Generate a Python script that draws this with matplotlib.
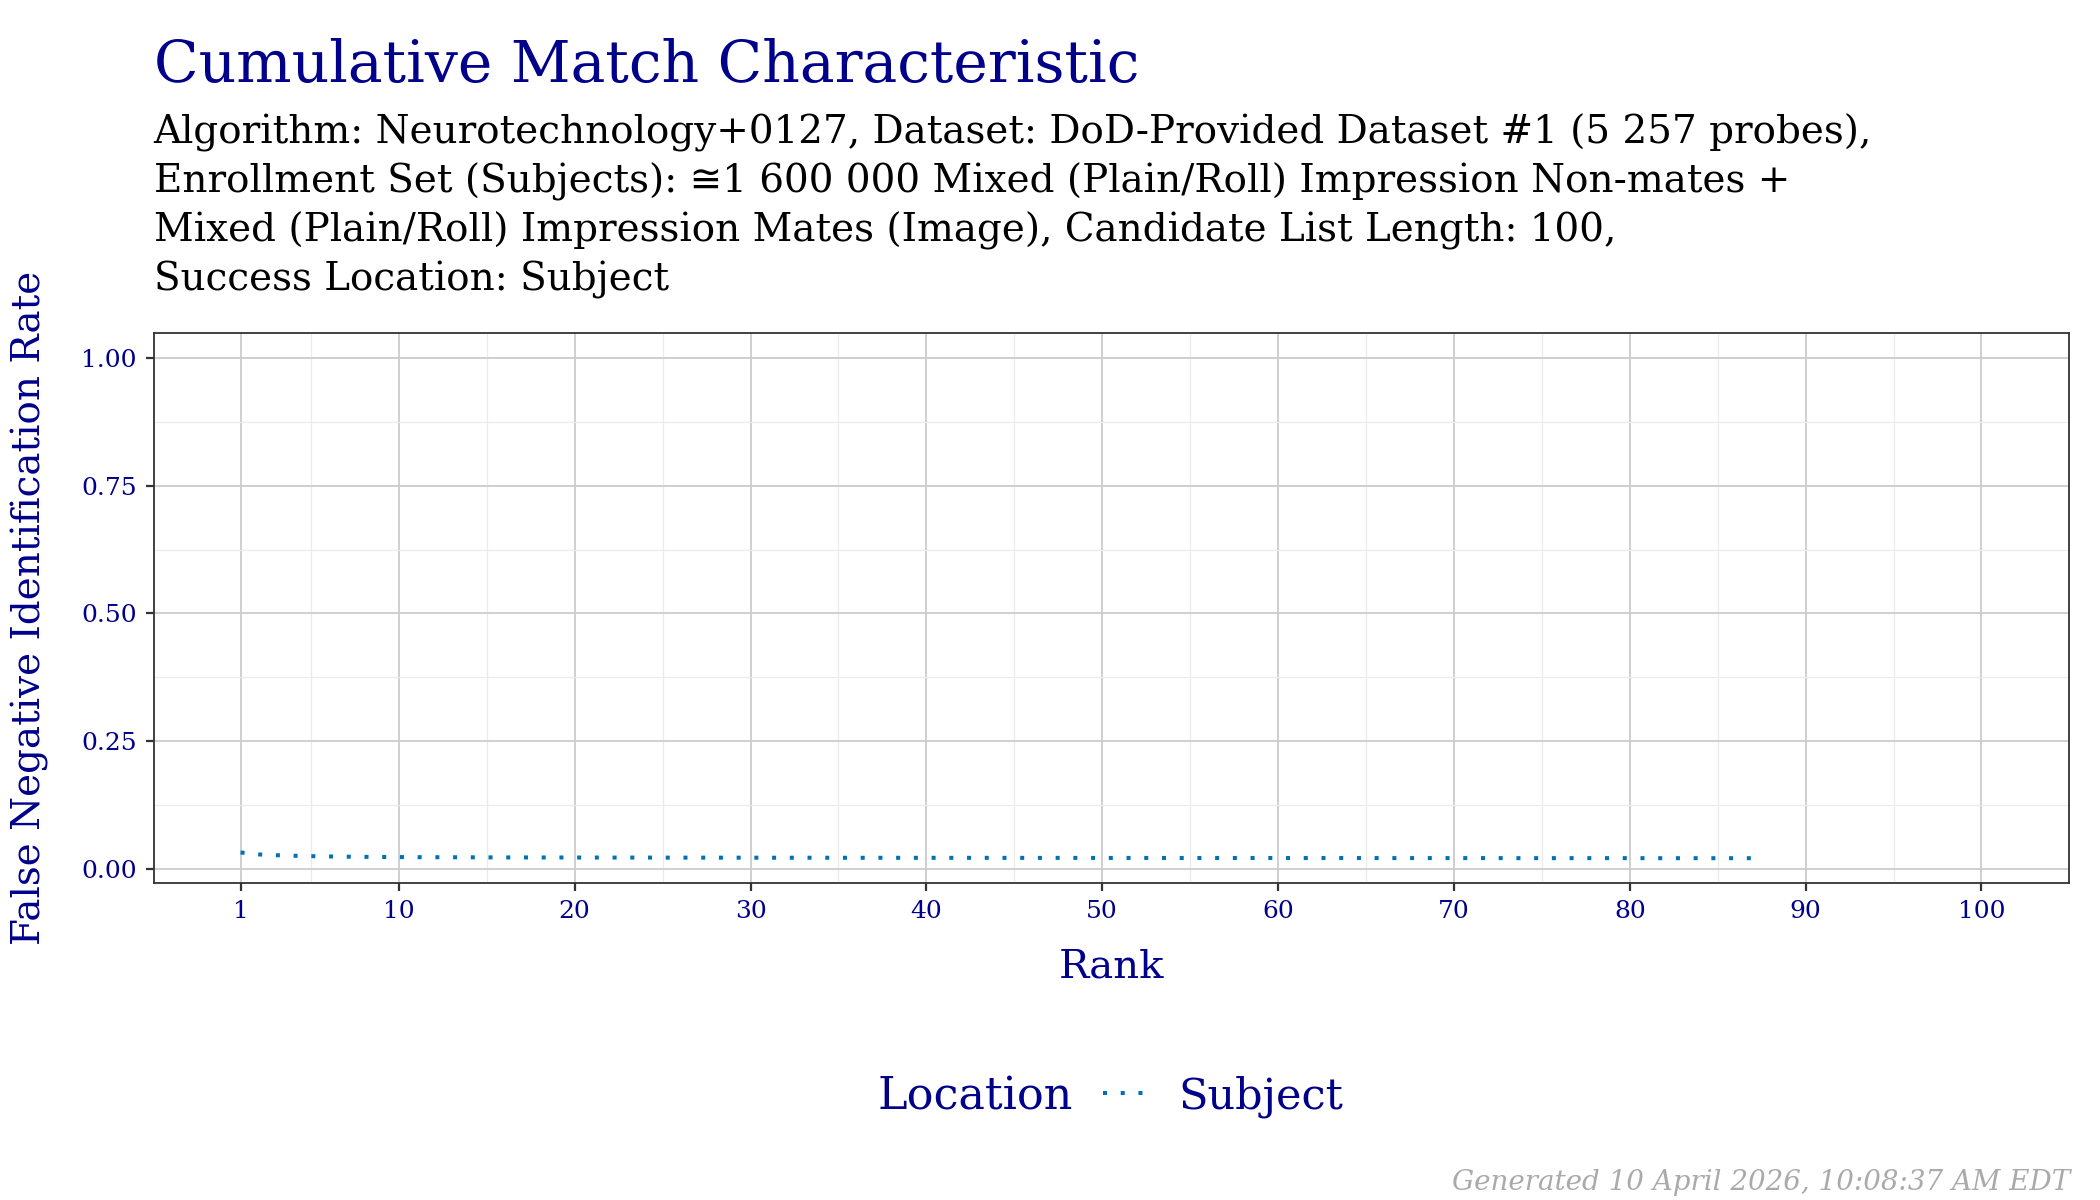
import matplotlib
matplotlib.use('Agg')
import matplotlib.pyplot as plt
from matplotlib.lines import Line2D
import numpy as np

plt.rcParams['font.family'] = ['DejaVu Serif', 'DejaVu Sans']

# FNIR per rank (subject-level success)
ranks = list(range(1, 88))
fnir = [0.0318, 0.0280, 0.0264, 0.0254, 0.0246, 0.0240, 0.0236, 0.0232, 0.0230, 0.0228,
        0.0226, 0.0225, 0.0224, 0.0223, 0.0222, 0.0221, 0.0221, 0.0220, 0.0220, 0.0219,
        0.0219, 0.0218, 0.0218, 0.0218, 0.0217, 0.0217, 0.0217, 0.0216, 0.0216, 0.0216,
        0.0215, 0.0215, 0.0215, 0.0215, 0.0214, 0.0214, 0.0214, 0.0214, 0.0213, 0.0213,
        0.0213, 0.0213, 0.0213, 0.0212, 0.0212, 0.0212, 0.0212, 0.0212, 0.0211, 0.0211,
        0.0211, 0.0211, 0.0211, 0.0210, 0.0210, 0.0210, 0.0210, 0.0210, 0.0210, 0.0209,
        0.0209, 0.0209, 0.0209, 0.0209, 0.0209, 0.0208, 0.0208, 0.0208, 0.0208, 0.0208,
        0.0208, 0.0208, 0.0207, 0.0207, 0.0207, 0.0207, 0.0207, 0.0207, 0.0207, 0.0207,
        0.0206, 0.0206, 0.0206, 0.0206, 0.0206, 0.0206, 0.0206]

x_breaks = [1, 10, 20, 30, 40, 50, 60, 70, 80, 90, 100]
x_minor = [5, 15, 25, 35, 45, 55, 65, 75, 85, 95]
y_breaks = [0.0, 0.25, 0.5, 0.75, 1.0]
y_minor = [0.125, 0.375, 0.625, 0.875]

title = 'Cumulative Match Characteristic'
subtitle = ['Algorithm: Neurotechnology+0127, Dataset: DoD-Provided Dataset #1 (5 257 probes),',
            'Enrollment Set (Subjects): \u22451 600 000 Mixed (Plain/Roll) Impression Non-mates +',
            'Mixed (Plain/Roll) Impression Mates (Image), Candidate List Length: 100,',
            'Success Location: Subject']
footer = 'Generated 10 April 2026, 10:08:37 AM EDT'

navy = '#00008B'
line_col = '#0072B2'
dots = (0, (1, 3.4))

fig = plt.figure(figsize=(21, 12), dpi=100)
ax = fig.add_axes([0.0731, 0.264, 0.9119, 0.4585])

ax.plot(ranks, fnir, color=line_col, lw=2.9, linestyle=dots)

ax.set_xlim(1 - 0.05 * 99, 100 + 0.05 * 99)
lo = min(fnir)
ax.set_ylim(lo - 0.05 * (1 - lo), 1 + 0.05 * (1 - lo))

ax.set_xticks(x_breaks)
ax.set_xticks(x_minor, minor=True)
ax.set_yticks(y_breaks)
ax.set_yticks(y_minor, minor=True)
ax.set_yticklabels(['%.2f' % v for v in y_breaks])
ax.grid(True, which='major', color='#cccccc', lw=1.3)
ax.grid(True, which='minor', color='#ebebeb', lw=0.9)
ax.set_axisbelow(True)
ax.tick_params(which='major', length=6, width=1.6, color='#333333',
               labelsize=18, labelcolor=navy, pad=6)
ax.tick_params(which='minor', length=0)
for s in ax.spines.values():
    s.set_color('#333333')
    s.set_linewidth(1.3)

ax.set_xlabel('Rank', fontsize=29, color=navy, va='center')
ax.xaxis.set_label_coords(0.5, -0.1527)
ax.set_ylabel('False Negative Identification Rate', fontsize=28, color=navy, va='center')
ax.yaxis.set_label_coords(-0.0646, 0.5)

fig.text(0.0731, 0.932, title, fontsize=42, color=navy, ha='left', va='baseline')
for i, s in enumerate(subtitle):
    fig.text(0.0731, 0.880 - i * 0.0408, s, fontsize=28, color='black', ha='left', va='baseline')

fig.text(790 / 1546, 0.086, 'Location', fontsize=32, color=navy, ha='right', va='center')
key = Line2D([], [], color=line_col, lw=2.9, linestyle=dots)
leg = fig.legend(handles=[key], labels=['Subject'], loc='center left',
                 bbox_to_anchor=(812 / 1546, 0.086), frameon=False, fontsize=31,
                 handlelength=0.95, handletextpad=0.8, borderpad=0, borderaxespad=0)
for t in leg.get_texts():
    t.set_color(navy)

fig.text(0.9858, 0.008, footer, fontsize=20, color='#aaaaaa', style='italic',
         ha='right', va='baseline')

fig.savefig('out.png', dpi=100)
